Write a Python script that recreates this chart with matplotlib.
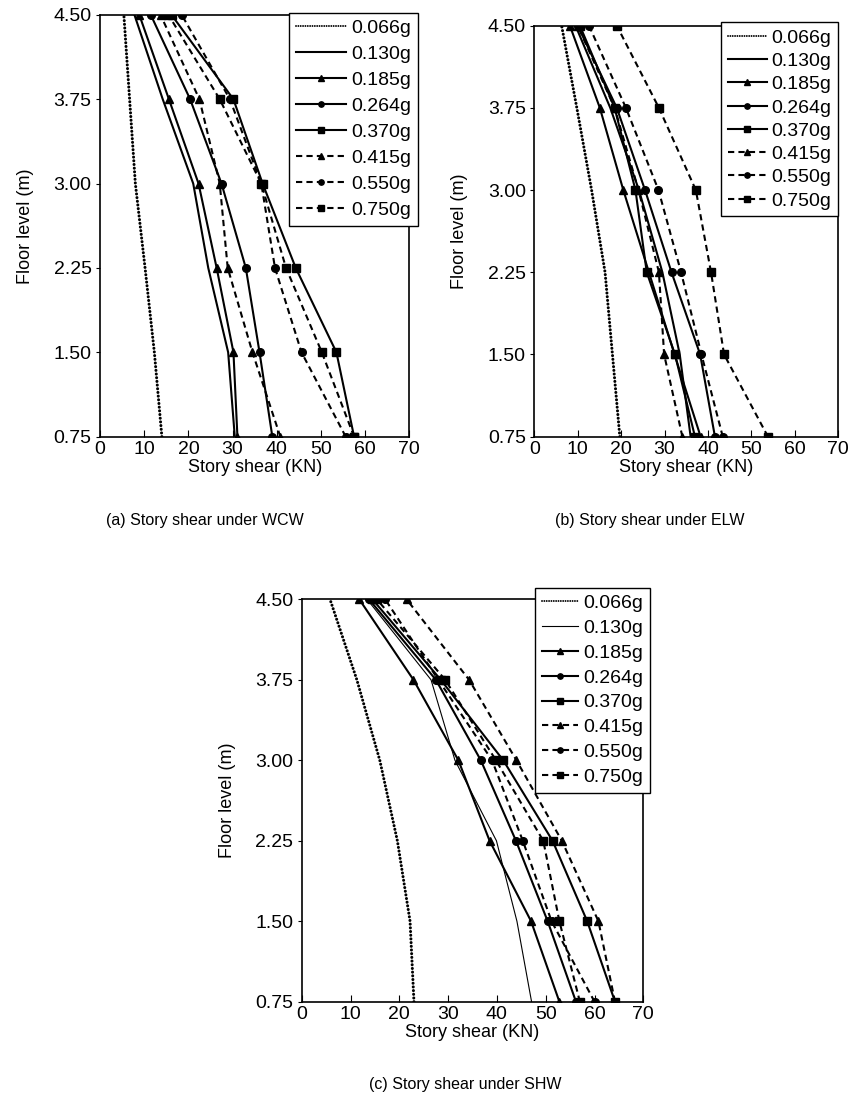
import numpy as np
import matplotlib.pyplot as plt

plt.rcParams['font.family'] = ['Liberation Sans', 'DejaVu Sans']

# floor levels (m), bottom floor first
levels = [0.75, 1.50, 2.25, 3.00, 3.75, 4.50]
pga = ['0.066g', '0.130g', '0.185g', '0.264g', '0.370g', '0.415g', '0.550g', '0.750g']

# story shear (KN) for each PGA, bottom floor first
wcw = [
    [14.0, 12.3, 10.2, 8.0, 6.7, 5.4],
    [30.5, 29.0, 24.5, 21.1, 14.2, 7.8],
    [31.1, 30.2, 26.4, 22.3, 15.6, 8.9],
    [39.0, 36.1, 33.0, 27.5, 20.4, 11.5],
    [57.5, 53.5, 44.3, 36.8, 30.2, 16.2],
    [40.8, 34.5, 28.9, 27.1, 22.5, 13.7],
    [55.6, 45.6, 39.6, 36.5, 29.4, 18.5],
    [57.5, 50.2, 42.1, 36.5, 27.1, 15.5],
]
elw = [
    [19.7, 18.0, 16.3, 13.2, 9.8, 6.3],
    [36.0, 33.5, 29.5, 24.1, 17.5, 9.5],
    [38.3, 32.3, 26.4, 20.5, 15.1, 8.2],
    [41.6, 38.2, 31.6, 25.5, 19.0, 10.0],
    [37.0, 32.4, 25.9, 23.3, 18.5, 10.5],
    [34.1, 29.9, 28.7, 24.0, 18.5, 10.0],
    [43.4, 38.5, 33.8, 28.6, 21.1, 12.6],
    [53.8, 43.7, 40.7, 37.2, 28.7, 19.0],
]
shw = [
    [23.0, 22.2, 19.6, 16.0, 11.3, 5.8],
    [47.1, 44.1, 39.9, 31.4, 26.5, 13.4],
    [52.8, 47.0, 38.5, 32.1, 22.9, 11.8],
    [56.2, 50.4, 43.9, 36.7, 27.5, 13.8],
    [64.2, 58.5, 51.4, 41.3, 28.5, 14.5],
    [64.2, 60.8, 53.3, 44.0, 34.3, 21.5],
    [60.0, 51.2, 45.3, 39.0, 28.0, 17.1],
    [57.0, 52.8, 49.5, 39.8, 29.4, 15.4],
]

#line styles for each PGA: (linestyle, marker)
dotted = (0, (0.01, 1.2))
dashed = (0, (3, 2))
styles = [(dotted, None), ('-', None), ('-', '^'), ('-', 'o'), ('-', 's'),
          (dashed, '^'), (dashed, 'o'), (dashed, 's')]


def draw_panel(ax, shear, legend_anchor, row_gap, handle_len, thin_130=False):
    for i, vals in enumerate(shear):
        ls, mk = styles[i]
        lw = 1.5
        if i == 0:
            lw = 2.2
        if i == 1 and thin_130:
            lw = 0.8
        ax.plot(vals, levels, linestyle=ls, marker=mk, color='black', lw=lw,
                markersize=5.5, dash_capstyle='round' if i == 0 else 'butt',
                label=pga[i])
    ax.set_xlim(0, 70)
    ax.set_ylim(0.75, 4.5)
    ax.set_xticks(np.arange(0, 71, 10))
    ax.set_yticks(levels)
    ax.set_yticklabels(['%.2f' % v for v in levels])
    ax.tick_params(axis='x', direction='in', length=5, labelsize=14, pad=3)
    ax.tick_params(axis='y', direction='out', length=3, labelsize=14, pad=3)
    for s in ax.spines.values():
        s.set_linewidth(1.2)
    ax.set_xlabel('Story shear (KN)', fontsize=13, labelpad=1)
    ax.set_ylabel('Floor level (m)', fontsize=13, labelpad=14)
    leg = ax.legend(loc='upper right', bbox_to_anchor=legend_anchor, fontsize=14,
                    handlelength=handle_len, handletextpad=0.25, labelspacing=row_gap,
                    borderpad=0.35, borderaxespad=0, fancybox=False,
                    framealpha=1, edgecolor='black', markerscale=0.7)
    leg.get_frame().set_linewidth(1.0)
    # finer dots for the legend handle of the dotted series
    leg.get_lines()[0].set_linewidth(1.4)


fig = plt.figure(figsize=(8.54, 11.06), dpi=100)

ax_a = fig.add_axes([0.1171, 0.6052, 0.3622, 0.3813])
draw_panel(ax_a, wcw, (1.028, 1.005), 0.43, 2.6)

ax_b = fig.add_axes([0.6256, 0.6052, 0.3560, 0.3716])
draw_panel(ax_b, elw, (1.0, 1.008), 0.29, 2.0)

ax_c = fig.add_axes([0.3533, 0.0943, 0.4000, 0.3638])
draw_panel(ax_c, shw, (1.02, 1.029), 0.37, 1.9, thin_130=True)

#captions under each panel
fig.text(205 / 854, 1 - 520 / 1106, '(a) Story shear under WCW', ha='center', va='center', fontsize=11.5)
fig.text(650 / 854, 1 - 520 / 1106, '(b) Story shear under ELW', ha='center', va='center', fontsize=11.5)
fig.text(465 / 854, 1 - 1085 / 1106, '(c) Story shear under SHW', ha='center', va='center', fontsize=11.5)

fig.savefig('out.png', dpi=100)
